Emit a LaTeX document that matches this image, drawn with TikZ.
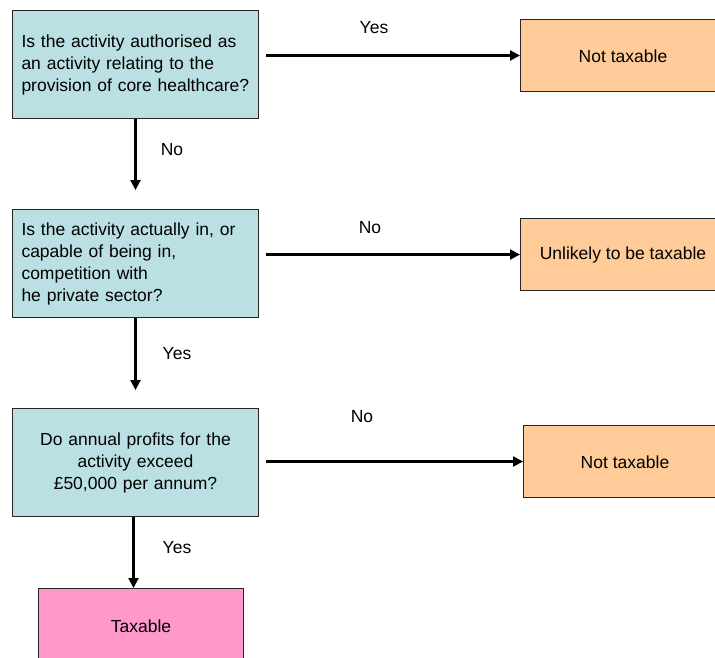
\documentclass[tikz,border=0pt]{standalone}
\usepackage{fontspec}
\setmainfont{Liberation Sans}
\usetikzlibrary{arrows.meta}
\definecolor{qblue}{HTML}{BBE0E3}
\definecolor{rorange}{HTML}{FFCC99}
\definecolor{tpink}{HTML}{FF99CC}
\begin{document}
\begin{tikzpicture}[x=1pt,y=-1pt,
  every node/.style={font=\fontsize{17.5}{22}\selectfont},
  box/.style={draw=black!85, line width=1pt, anchor=north west, inner ysep=0pt},
  qbox/.style={box, fill=qblue, minimum width=246pt, minimum height=108pt},
  qleft/.style={qbox, text width=228pt, inner xsep=9pt, align=left},
  qcent/.style={qbox, text width=228pt, inner xsep=9pt, align=center},
  rbox/.style={box, fill=rorange, minimum width=220pt, minimum height=72pt},
  tbox/.style={box, fill=tpink, minimum width=205pt, minimum height=90pt},
  arr/.style={line width=2.2pt, -{Triangle[length=10pt,width=10pt]}},
  lbl/.style={inner sep=0pt}
]
\useasboundingbox (0,0) rectangle (715,657);
\clip (0,0) rectangle (715,657);

\node[qleft] (q1) at (12,10) {Is the activity authorised as\\an activity relating to the\\provision of core healthcare?};
\node[qleft] (q2) at (12,209) {Is the activity actually in, or\\capable of being in,\\competition with\\he private sector?};
\node[qcent] (q3) at (12,408) {Do annual profits for the\\activity exceed\\\pounds50,000 per annum?};

\node[rbox] (r1) at (520,19) {};
\node at (623,56) (r1t) {Not taxable};
\node[rbox] (r2) at (520,218) {};
\node at (623,255) (r2t) {Unlikely to be taxable};
\node[rbox] (r3) at (523,425) {};
\node at (625,462) (r3t) {Not taxable};

\node[tbox] (t) at (38,588) {};
\node at (141,626) (tt) {Taxable};

\draw[arr] ([xshift=7pt]q1.east |- r1.west) -- (r1.west);
\draw[arr] ([xshift=7pt]q2.east |- r2.west) -- (r2.west);
\draw[arr] ([xshift=7pt]q3.east |- r3.west) -- (r3.west);

\draw[arr, shorten >=19pt] (q1.south) -- (q2.north);
\draw[arr, shorten >=18pt] (q2.south) -- (q3.north);
\draw[arr] ([xshift=-2pt]q3.south) -- ([xshift=-2pt]q3.south |- t.north);

\node[lbl] (l1) at (374,28) {Yes};
\node[lbl] (l2) at (370,228) {No};
\node[lbl] (l3) at (362,417) {No};
\node[lbl] (l4) at (172,150) {No};
\node[lbl] (l5) at (177,354) {Yes};
\node[lbl] (l6) at (177,548) {Yes};
\end{tikzpicture}
\end{document}
